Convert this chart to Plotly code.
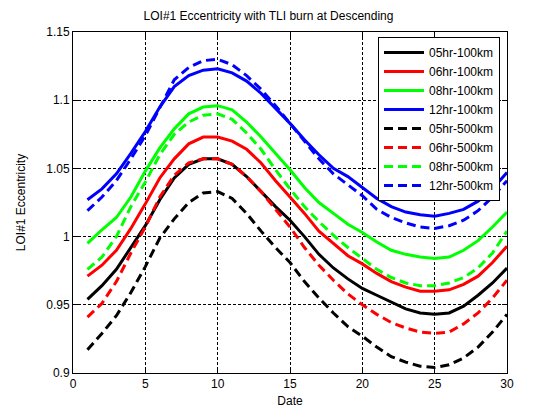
import plotly.graph_objects as go

days = list(range(1, 31))

names = ["05hr-100km", "06hr-100km", "08hr-100km", "12hr-100km",
         "05hr-500km", "06hr-500km", "08hr-500km", "12hr-500km"]

e05_100 = [0.954, 0.964, 0.976, 0.992, 1.008, 1.027, 1.043, 1.053, 1.057, 1.057,
           1.053, 1.044, 1.033, 1.022, 1.012, 1.000, 0.987, 0.977, 0.969, 0.962,
           0.957, 0.952, 0.947, 0.944, 0.943, 0.944, 0.949, 0.957, 0.966, 0.977]
e06_100 = [0.971, 0.979, 0.990, 1.006, 1.024, 1.043, 1.057, 1.068, 1.073, 1.073,
           1.070, 1.064, 1.054, 1.041, 1.029, 1.017, 1.004, 0.995, 0.986, 0.980,
           0.973, 0.967, 0.963, 0.960, 0.960, 0.961, 0.965, 0.971, 0.981, 0.993]
e08_100 = [0.995, 1.005, 1.014, 1.029, 1.048, 1.065, 1.079, 1.090, 1.095, 1.096,
           1.093, 1.084, 1.073, 1.061, 1.049, 1.036, 1.025, 1.017, 1.009, 1.003,
           0.996, 0.990, 0.987, 0.985, 0.984, 0.985, 0.990, 0.997, 1.007, 1.018]
e12_100 = [1.027, 1.035, 1.046, 1.061, 1.077, 1.095, 1.110, 1.118, 1.122, 1.123,
           1.120, 1.114, 1.105, 1.094, 1.083, 1.071, 1.060, 1.050, 1.044, 1.036,
           1.028, 1.022, 1.018, 1.016, 1.015, 1.017, 1.020, 1.026, 1.035, 1.047]
e05_500 = [0.917, 0.929, 0.942, 0.959, 0.978, 0.999, 1.013, 1.025, 1.032, 1.033,
           1.028, 1.017, 1.004, 0.992, 0.981, 0.967, 0.955, 0.944, 0.934, 0.927,
           0.919, 0.912, 0.908, 0.905, 0.904, 0.906, 0.911, 0.919, 0.930, 0.943]
e06_500 = [0.941, 0.951, 0.967, 0.988, 1.007, 1.029, 1.045, 1.054, 1.057, 1.057,
           1.053, 1.044, 1.033, 1.020, 1.007, 0.992, 0.979, 0.968, 0.958, 0.950,
           0.943, 0.937, 0.933, 0.930, 0.929, 0.930, 0.936, 0.944, 0.955, 0.968]
e08_500 = [0.976, 0.985, 1.000, 1.022, 1.040, 1.060, 1.075, 1.084, 1.089, 1.090,
           1.086, 1.076, 1.064, 1.049, 1.035, 1.022, 1.011, 1.001, 0.992, 0.984,
           0.976, 0.970, 0.966, 0.964, 0.964, 0.966, 0.970, 0.977, 0.988, 1.004]
e12_500 = [1.019, 1.029, 1.041, 1.057, 1.074, 1.094, 1.115, 1.124, 1.129, 1.130,
           1.126, 1.118, 1.108, 1.096, 1.083, 1.070, 1.057, 1.046, 1.038, 1.030,
           1.020, 1.014, 1.010, 1.007, 1.006, 1.008, 1.012, 1.019, 1.029, 1.041]

series = [e05_100, e06_100, e08_100, e12_100, e05_500, e06_500, e08_500, e12_500]
colors = ["#000000", "#FF0000", "#00FF00", "#0000FF"] * 2
dashes = ["solid"] * 4 + ["9px,5px"] * 4

ytick_vals = [0.9, 0.95, 1.0, 1.05, 1.1, 1.15]
ytick_text = ["0.9", "0.95", "1", "1.05", "1.1", "1.15"]
xtick_vals = [0, 5, 10, 15, 20, 25, 30]

fig = go.Figure()
for name, vals, c, d in zip(names, series, colors, dashes):
    fig.add_trace(go.Scatter(x=days, y=vals, mode="lines", name=name,
                             line=dict(color=c, width=3, dash=d)))

font = dict(family="Liberation Sans, Arial, sans-serif", size=12, color="black")
axis_common = dict(showline=True, linecolor="black", linewidth=1, mirror="ticks",
                   ticks="inside", ticklen=5, tickcolor="black",
                   showgrid=True, gridcolor="black", gridwidth=1, griddash="3px,2px",
                   zeroline=False, tickfont=font, automargin=False)

# page body has an 8px margin; compensate so the plot sits where the reference does
fig.update_layout(
    width=560, height=420,
    paper_bgcolor="white", plot_bgcolor="white",
    margin=dict(l=65, r=61, t=24, b=55),
    font=font,
    title=dict(text="LOI#1 Eccentricity with TLI burn at Descending",
               x=260.5 / 560, xanchor="center", y=1 - 8 / 420, yanchor="middle",
               yref="container", xref="container", font=font),
    xaxis=dict(range=[0, 30], tickvals=xtick_vals,
               title=dict(text="Date", font=font, standoff=6), **axis_common),
    yaxis=dict(range=[0.9, 1.15], tickvals=ytick_vals, ticktext=ytick_text,
               title=dict(text="LOI#1 Eccentricity", font=font, standoff=18), **axis_common),
    legend=dict(x=(500 - 73) / 434, y=(373 - 37) / 341, xanchor="right", yanchor="top",
                bgcolor="white", bordercolor="black", borderwidth=1,
                font=dict(family="Liberation Sans, Arial, sans-serif", size=12, color="black"),
                tracegroupgap=0, itemwidth=40),
    showlegend=True,
)

fig.write_html("out.html")
